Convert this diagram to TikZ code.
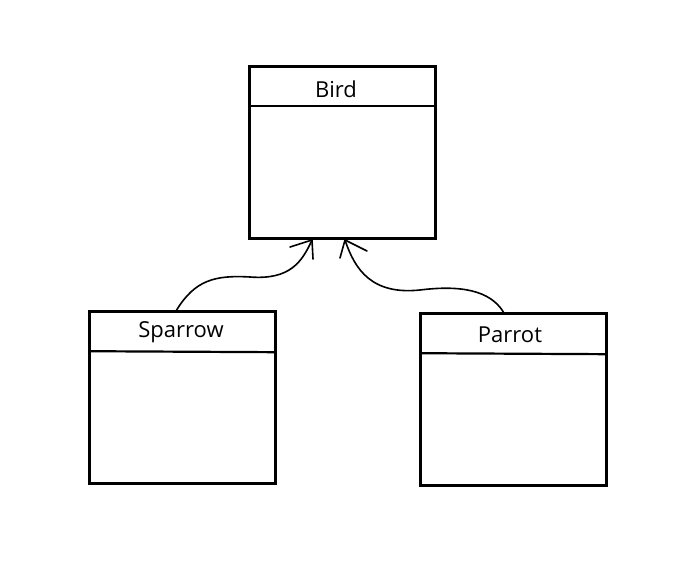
\documentclass[tikz,border=0pt]{standalone}
\usepackage{fontspec}
\setmainfont{Open Sans}
\begin{document}
\begin{tikzpicture}[x=1pt,y=-1pt,
  cls/.style={draw=black,line width=2.6pt,rectangle,minimum width=186pt,minimum height=172pt,inner sep=0pt},
  title/.style={font=\fontsize{22}{26}\selectfont,inner sep=0pt},
  hdr/.style={line width=2.2pt},
  conn/.style={line width=1.6pt,line cap=round,line join=round}]
\useasboundingbox (0,0) rectangle (696,564);
\node[cls] (bird) at (342.5,152.5) {};
\node[cls] (sparrow) at (182.5,397.5) {};
\node[cls] (parrot) at (513.5,399.5) {};
\draw[hdr] ([yshift=-41pt]bird.north west) -- ([yshift=-41pt]bird.north east);
\draw[hdr] ([yshift=-41pt]sparrow.north west) -- ([yshift=-42pt]sparrow.north east);
\draw[hdr] ([yshift=-41pt]parrot.north west) -- ([yshift=-42pt]parrot.north east);
\node[title] (tb) at (336,89) {Bird};
\node[title] (ts) at (181,332) {Sparrow};
\node[title] (tp) at (510,335) {Parrot};
\coordinate (ltip) at (312,240);
\coordinate (rtip) at (345,240);
\draw[conn] ([xshift=-6pt]sparrow.north) .. controls (195,280) and (215,275) .. (250,277) .. controls (290,280) and (302,262) .. (ltip);
\draw[conn] (290,247) -- (ltip) -- (313,259);
\draw[conn] ([xshift=-10pt]parrot.north) .. controls (490,290) and (460,285) .. (420,290) .. controls (372,295) and (355,270) .. (rtip);
\draw[conn] (340,258) -- (rtip) -- (367,251);
\end{tikzpicture}
\end{document}
